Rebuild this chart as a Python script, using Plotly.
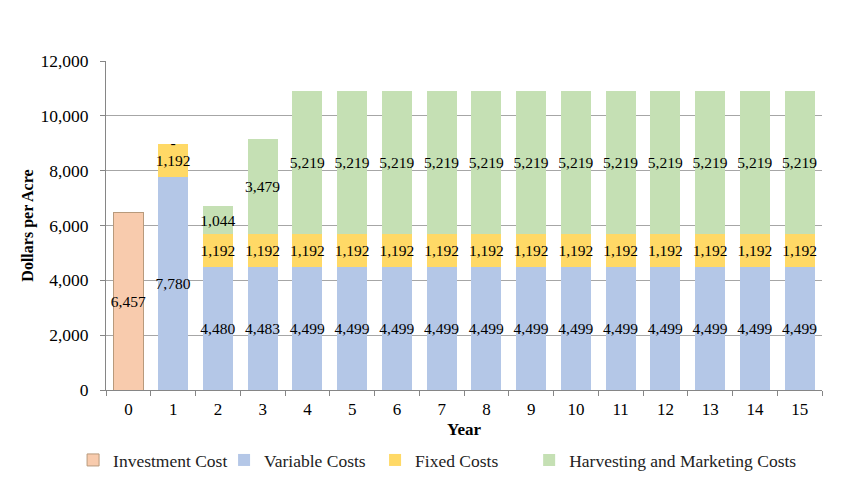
import plotly.graph_objects as go

years = [str(i) for i in range(16)]
investment = [6457] + [None] * 15
variable = [None, 7780, 4480, 4483] + [4499] * 12
fixed = [None, 1192, 1192, 1192] + [1192] * 12
harvest = [None, 0, 1044, 3479] + [5219] * 12

def labels(vals):
    return ["" if (v is None or v == 0) else f"{v:,}" for v in vals]

FONT = "Liberation Serif, Times New Roman, serif"

series = [
    ("Investment Cost", investment, "#F8CBAD", "#B89A7C", "legend"),
    ("Variable Costs", variable, "#B4C7E7", "#B4C7E7", "legend"),
    ("Fixed Costs", fixed, "#FFD966", "#FFD966", "legend"),
    ("Harvesting and Marketing Costs", harvest, "#C5E0B4", "#C5E0B4", "legend2"),
]

fig = go.Figure()
for name, vals, col, line, lg in series:
    fig.add_trace(go.Bar(
        name=name, x=years, y=vals, legend=lg,
        marker=dict(color=col, line=dict(color=line, width=1 if name == "Investment Cost" else 0)),
        text=labels(vals), textposition="inside", insidetextanchor="middle",
        textangle=0, constraintext="none", cliponaxis=False,
        textfont=dict(family=FONT, size=15.5, color="black"),
        hoverinfo="skip",
    ))

# "-" label for zero-valued harvesting segments, placed at the top of the stack
zero_x, zero_y = [], []
for i, h in enumerate(harvest):
    if h == 0:
        zero_x.append(years[i])
        zero_y.append(sum(v or 0 for v in (investment[i], variable[i], fixed[i], h)))
fig.add_trace(go.Scatter(
    x=zero_x, y=zero_y, mode="text", text=["-"] * len(zero_x),
    textposition="middle center", showlegend=False, hoverinfo="skip", cliponaxis=False,
    textfont=dict(family=FONT, size=15.5, color="black"),
))

legend_font = dict(family=FONT, size=17.5, color="#222")
fig.update_layout(
    barmode="stack", bargap=0.33,
    width=845, height=472,
    margin=dict(l=98, r=31, t=53, b=90, autoexpand=False),
    paper_bgcolor="white", plot_bgcolor="white",
    font=dict(family=FONT, size=17, color="black"),
    showlegend=True,
    legend=dict(orientation="h", x=-0.046, xanchor="left", y=-0.213, yanchor="middle",
                font=legend_font, itemclick=False,
                traceorder="normal", itemwidth=30, entrywidth=106),
    legend2=dict(orientation="h", x=0.591, xanchor="left", y=-0.213, yanchor="middle",
                 font=legend_font, itemclick=False, itemwidth=30),
    xaxis=dict(type="category", title=dict(text="<b>Year</b>", font=dict(size=17), standoff=4),
               automargin=False,
               showline=True, linecolor="#868686", linewidth=1,
               ticks="outside", tickson="boundaries", ticklen=5, tickcolor="#868686",
               tickfont=dict(size=17), ticklabelstandoff=4, showgrid=False),
    yaxis=dict(range=[0, 12000], dtick=2000, tickformat=",d",
               title=dict(text="<b>Dollars per Acre</b>", font=dict(size=16), standoff=2),
               automargin=False,
               showline=True, linecolor="#868686", linewidth=1,
               ticks="outside", ticklen=5, tickcolor="#868686",
               showgrid=True, gridcolor="#A6A6A6", gridwidth=1,
               tickfont=dict(size=17.5), ticklabelstandoff=8, zeroline=False),
)

fig.write_html("out.html")
